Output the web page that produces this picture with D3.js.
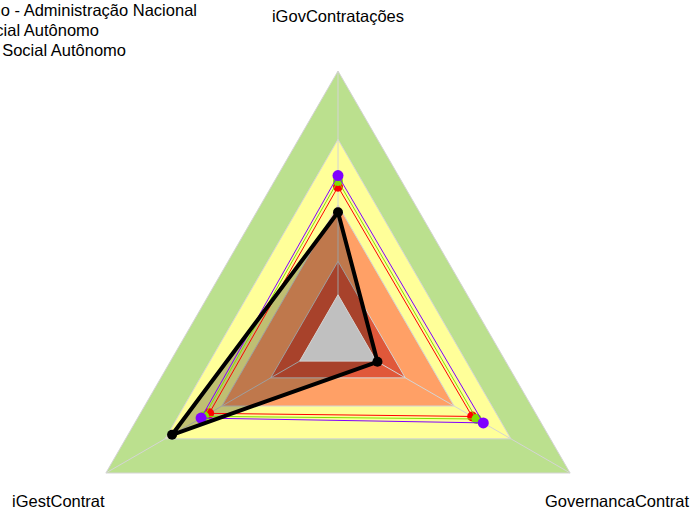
<!DOCTYPE html>
<html>
<head>
<meta charset="utf-8">
<script src="https://cdn.jsdelivr.net/npm/d3@7"></script>
<style>
  body { margin: 0; background: #fff; }
  svg { display: block; font-family: "Liberation Sans", Arial, sans-serif; }
</style>
</head>
<body>
<svg id="canvas"></svg>
<script>
// axes, clockwise from top
let axes = ["iGovContratações", "GovernancaContrat", "iGestContrat"];

// background bands (upper limit of each)
let bandLevels = [1, 0.745, 0.5, 0.29];
let centerLevel = 0.165;

// series values, same order as axes
let seriesNames = [
  "Serviço Social Autônomo - Administração Nacional",
  "Serviço Social Autônomo",
  "Média Serviço Social Autônomo"
];
let redValues = [0.568, 0.578, 0.555];
let greenValues = [0.59, 0.597, 0.577];
let purpleValues = [0.61, 0.626, 0.59];
let blackValues = [0.473, 0.17, 0.715];

let width = 691;
let height = 513;
let cx = 338;
let cy = 339;

let canvas = d3.select("#canvas").attr("width", width).attr("height", height);

let rScale = d3.scaleLinear().domain([0, 1]).range([0, 268]);
let angleScale = d3.scaleLinear().domain([0, axes.length]).range([0, 2 * Math.PI]);

let point = (v, i) => {
  let a = angleScale(i) - Math.PI / 2;
  return [cx + rScale(v) * Math.cos(a), cy + rScale(v) * Math.sin(a)];
};

let line = d3.line().curve(d3.curveLinearClosed);

let ring = (v) => line(axes.map((d, i) => point(v, i)));

let bandColors = ["#bbe08e", "#ffff99", "#ffa066", "#e0583a"];

// bands
canvas
  .selectAll(".band")
  .data(bandLevels)
  .enter()
  .append("path")
  .attr("class", "band")
  .attr("d", (d) => ring(d))
  .attr("fill", (d, i) => bandColors[i])
  .attr("stroke", "#d4d4d4")
  .attr("stroke-width", 1);

// axis lines
canvas
  .selectAll(".axis")
  .data(axes)
  .enter()
  .append("line")
  .attr("class", "axis")
  .attr("x1", cx)
  .attr("y1", cy)
  .attr("x2", (d, i) => point(1, i)[0])
  .attr("y2", (d, i) => point(1, i)[1])
  .attr("stroke", "#d4d4d4")
  .attr("stroke-width", 1);

// black series fill
canvas
  .append("path")
  .attr("d", line(blackValues.map((v, i) => point(v, i))))
  .attr("fill", "#000")
  .attr("fill-opacity", 0.25);

// gray center
canvas
  .append("path")
  .attr("d", ring(centerLevel))
  .attr("fill", "#c0c0c0")
  .attr("stroke", "#d4d4d4");

let drawSeries = (values, color, lw, r) => {
  let pts = values.map((v, i) => point(v, i));
  canvas
    .append("path")
    .attr("d", line(pts))
    .attr("fill", "none")
    .attr("stroke", color)
    .attr("stroke-width", lw)
    .attr("stroke-linejoin", "round");
  canvas
    .append("g")
    .selectAll("circle")
    .data(pts)
    .enter()
    .append("circle")
    .attr("cx", (d) => d[0])
    .attr("cy", (d) => d[1])
    .attr("r", r)
    .attr("fill", color);
};

drawSeries(redValues, "#ff0000", 1, 5);
drawSeries(greenValues, "#80e000", 1, 5);
drawSeries(purpleValues, "#8000ff", 1, 5.5);
drawSeries(blackValues, "#000000", 4, 5);

// axis labels
let labelPos = [
  { x: 338, y: 22, anchor: "middle" },
  { x: 689, y: 507, anchor: "end" },
  { x: 12, y: 507, anchor: "start" }
];
canvas
  .selectAll(".label")
  .data(axes)
  .enter()
  .append("text")
  .attr("class", "label")
  .attr("x", (d, i) => labelPos[i].x)
  .attr("y", (d, i) => labelPos[i].y)
  .attr("text-anchor", (d, i) => labelPos[i].anchor)
  .attr("font-size", 16.5)
  .attr("fill", "#000")
  .text((d) => d);

// legend (cut at the left edge, as in the original)
let legendEnds = [197, 99, 126];
canvas
  .selectAll(".legend")
  .data(seriesNames)
  .enter()
  .append("text")
  .attr("class", "legend")
  .attr("x", (d, i) => legendEnds[i])
  .attr("y", (d, i) => 16 + i * 20)
  .attr("text-anchor", "end")
  .attr("font-size", 16.5)
  .attr("fill", "#000")
  .text((d) => d);
</script>
</body>
</html>
